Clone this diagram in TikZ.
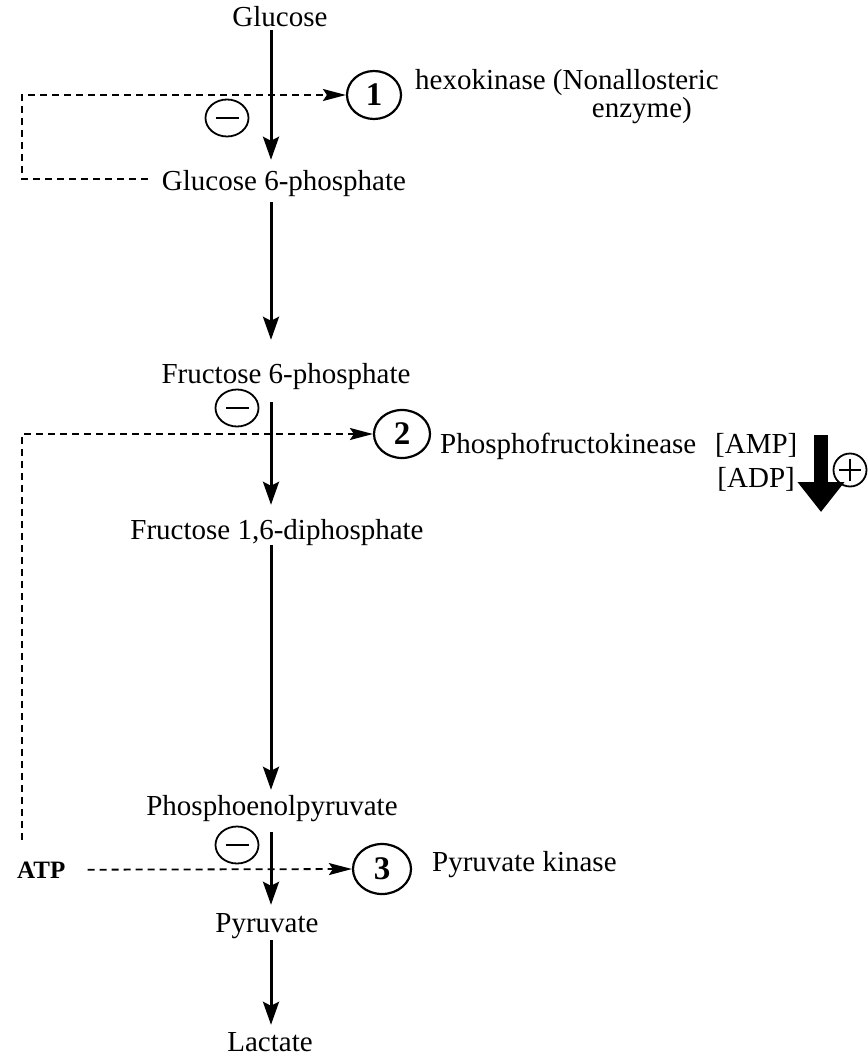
\documentclass[tikz,border=0pt]{standalone}
\usepackage{fontspec}
\setmainfont{Liberation Serif}
\usetikzlibrary{arrows.meta,shapes.geometric}
\begin{document}
\begin{tikzpicture}[x=1pt,y=-1pt,
 lbl/.style={font=\fontsize{29}{34}\selectfont, inner sep=0pt, text height=20pt, text depth=6pt, anchor=base},
 num/.style={ellipse, draw, line width=2.2pt, inner sep=0pt, font=\fontsize{33}{36}\selectfont\bfseries},
 minus/.style={ellipse, draw, line width=1.8pt, inner sep=0pt, minimum width=43pt, minimum height=37pt,
   path picture={\draw[line width=2pt] ([xshift=-11.5pt]path picture bounding box.center) -- ([xshift=11.5pt]path picture bounding box.center);}},
 plus/.style={circle, draw, line width=1.8pt, inner sep=0pt, minimum size=33pt,
   path picture={\draw[line width=2pt] ([xshift=-11pt]path picture bounding box.center) -- ([xshift=11pt]path picture bounding box.center)
     ([yshift=-11pt]path picture bounding box.center) -- ([yshift=11pt]path picture bounding box.center);}},
 flow/.style={line width=3pt, -{Stealth[length=23pt,width=16pt,inset=4pt]}},
 inhib/.style={line width=1.8pt, dash pattern=on 7pt off 5pt, -{Stealth[length=23pt,width=12pt,inset=4pt]}},
 ]
\useasboundingbox (0,0) rectangle (867,1056);
\fill[white] (0,0) rectangle (867,1056);

% metabolites
\node[lbl] (glc) at (280,27) {Glucose};
\node[lbl] (g6p) at (284,191) {Glucose 6-phosphate};
\node[lbl] (f6p) at (286,383) {Fructose 6-phosphate};
\node[lbl] (f16) at (277,539) {Fructose 1,6-diphosphate};
\node[lbl] (pep) at (272,815) {Phosphoenolpyruvate};
\node[lbl] (pyr) at (267,932) {Pyruvate};
\node[lbl] (lac) at (270,1051) {Lactate};

\coordinate (ax) at (271,0);
\draw[flow, shorten <=-3pt, shorten >=11pt] (glc.south -| ax) -- (g6p.north -| ax);
\draw[flow, shorten <=5pt, shorten >=23pt] (g6p.south -| ax) -- (f6p.north -| ax);
\draw[flow, shorten <=13pt, shorten >=14pt] (f6p.south -| ax) -- (f16.north -| ax);
\draw[flow, shorten <=0pt, shorten >=5pt] (f16.south -| ax) -- (pep.north -| ax);
\draw[flow, shorten <=11pt, shorten >=7pt] (pep.south -| ax) -- (pyr.north -| ax);
\draw[flow, shorten <=2pt, shorten >=6pt] (pyr.south -| ax) -- (lac.north -| ax);

% enzymes
\node[num, minimum width=54pt, minimum height=48pt] (c1) at (374,95) {1};
\node[num, minimum width=56pt, minimum height=48pt] (c2) at (402,434) {2};
\node[num, minimum width=58pt, minimum height=50pt] (c3) at (382,869) {3};

\node[minus] (m1) at (227,118) {};
\node[minus] (m2) at (237,408) {};
\node[minus] (m3) at (237,845) {};

\node[lbl, anchor=base west] (hk) at (415,90) {hexokinase (Nonallosteric};
\node[lbl, anchor=base east] (hk2) at (692,118) {enzyme)};
\node[lbl, anchor=base west] (pfk) at (440,453) {Phosphofructokinease};
\node[lbl, anchor=base west] (amp) at (715,453) {[AMP]};
\node[lbl, anchor=base east] (adp) at (795,487) {[ADP]};
\node[lbl, anchor=base west] (pk) at (432,871) {Pyruvate kinase};

\node[font=\fontsize{25}{28}\selectfont\bfseries, inner sep=0pt, anchor=base west] (atp) at (17,878) {ATP};

% feedback lines
\coordinate (k1a) at (22,95);
\coordinate (k1b) at (22,179);
\draw[inhib] ([shift={(-14,-5)}]g6p.west) -- (k1b) -- (k1a) -- (c1.west);

\coordinate (a0) at (22,840);
\coordinate (k2) at (22,434);
\draw[inhib] (a0) -- (k2) -- (c2.west);

\draw[inhib, shorten <=22pt] (atp.east) -- (c3.west);

% activation arrow
\coordinate (ta) at (821,435);
\coordinate (tb) at (821,512);
\draw[line width=14pt, -{Triangle[length=30pt,width=45pt]}] (ta) -- (tb);
\node[plus] (pl) at (850,470) {};
\end{tikzpicture}
\end{document}
